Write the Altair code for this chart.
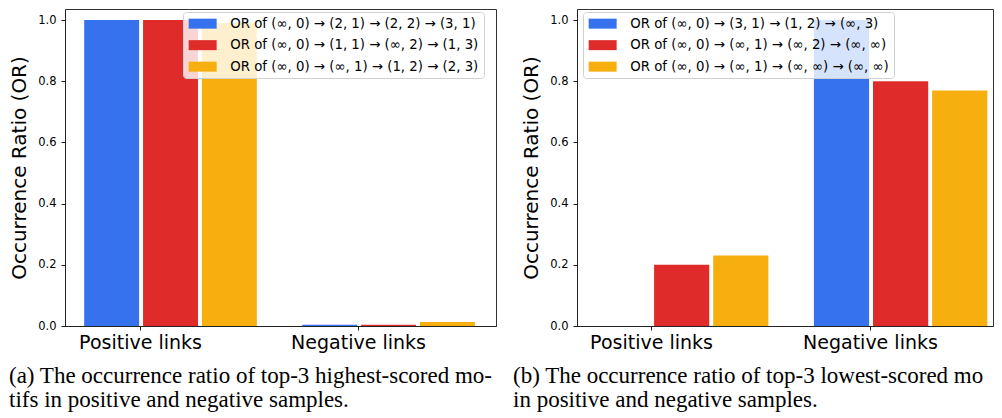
import altair as alt
import pandas as pd

# ---- data ----
categories = ["Positive links", "Negative links"]
colors = ["#3672ee", "#e02b2b", "#f7ae0f"]

labels_a = [
    "OR of (∞, 0) → (2, 1) → (2, 2) → (3, 1)",
    "OR of (∞, 0) → (1, 1) → (∞, 2) → (1, 3)",
    "OR of (∞, 0) → (∞, 1) → (1, 2) → (2, 3)",
]
values_a = [
    [1.0, 0.004],
    [1.0, 0.004],
    [0.99, 0.013],
]

labels_b = [
    "OR of (∞, 0) → (3, 1) → (1, 2) → (∞, 3)",
    "OR of (∞, 0) → (∞, 1) → (∞, 2) → (∞, ∞)",
    "OR of (∞, 0) → (∞, 1) → (∞, ∞) → (∞, ∞)",
]
values_b = [
    [0.0, 1.0],
    [0.20, 0.80],
    [0.23, 0.77],
]

caption_a = "(a)  The occurrence ratio of top-3 highest-scored mo-\ntifs in positive and negative samples."
caption_b = "(b)  The occurrence ratio of top-3 lowest-scored motifs\nin positive and negative samples."

# ---- layout constants ----
H = 317
YDOM = [0, 1.036]
STEP = 0.27
HALF = 0.126
CENTER0 = 0.14

label_expr = " : ".join(
    [f"datum.value == {i} ? '{c}'" for i, c in enumerate(categories)]
) + " : ''"


def build_df(labels, values):
    rows = []
    for j, (lab, vals) in enumerate(zip(labels, values)):
        for i, v in enumerate(vals):
            c = i + CENTER0 + STEP * (j - 1)
            rows.append({"series": lab, "x0": c - HALF, "x1": c + HALF,
                         "value": v, "base": 0.0})
    return pd.DataFrame(rows)


def panel(labels, values, caption, legend_x, cap_x, width, xdom, cap_limit):
    df = build_df(labels, values)
    bars = alt.Chart(df).mark_bar().encode(
        x=alt.X(
            "x0:Q",
            scale=alt.Scale(domain=xdom, nice=False, zero=False),
            axis=alt.Axis(
                values=list(range(len(categories))),
                labelExpr=label_expr,
                title=None,
                grid=False,
                labelFontSize=19,
                labelPadding=3,
                tickSize=4,
            ),
        ),
        x2="x1:Q",
        y=alt.Y(
            "value:Q",
            scale=alt.Scale(domain=YDOM, nice=False, zero=True),
            axis=alt.Axis(
                values=[0, 0.2, 0.4, 0.6, 0.8, 1.0],
                format=".1f",
                title="Occurrence Ratio (OR)",
                titleFontSize=20,
                titleFontWeight="normal",
                titlePadding=8,
                labelFontSize=11.5,
                labelPadding=5,
                tickSize=4,
                grid=False,
            ),
        ),
        y2="base:Q",
        color=alt.Color(
            "series:N",
            scale=alt.Scale(domain=labels, range=colors),
            sort=labels,
            legend=alt.Legend(
                orient="none",
                legendX=legend_x,
                legendY=3,
                title=None,
                symbolType="M-2.8,-1H2.8V1H-2.8Z",
                symbolSize=100,
                symbolStrokeWidth=0,
                symbolOffset=8,
                labelOffset=21,
                labelFont="DejaVu Sans",
                labelFontSize=13.3,
                labelColor="black",
                labelLimit=500,
                rowPadding=7.5,
                padding=5,
                fillColor="rgba(255,255,255,0.8)",
                strokeColor="#d0d0d0",
                cornerRadius=3,
            ),
        ),
    )
    cap = alt.Chart(pd.DataFrame({"t": [caption]})).mark_text(
        align="left",
        baseline="alphabetic",
        font="Liberation Serif",
        fontSize=23,
        lineBreak="\n",
        lineHeight=24,
        color="black",
        limit=cap_limit,
        ellipsis="\u200b",
    ).encode(x=alt.value(cap_x), y=alt.value(374), text="t:N")
    return alt.layer(bars, cap).properties(width=width, height=H)


left = panel(labels_a, values_a, caption_a, 118, -56, 431, [-0.344, 1.633], 600)
right = panel(labels_b, values_b, caption_b, 6, -64, 416, [-0.338, 1.562], 480)

chart = (
    alt.hconcat(left, right, spacing=81, bounds="flush")
    .resolve_scale(color="independent")
    .resolve_legend(color="independent")
    .properties(padding={"left": 0, "top": 0, "right": 0, "bottom": 0})
    .configure(font="DejaVu Sans", background="white")
    .configure_view(stroke="#333", strokeWidth=1)
    .configure_axis(domainColor="#222", tickColor="#222", labelColor="black", titleColor="black",
                    labelFont="DejaVu Sans", titleFont="DejaVu Sans")
)

chart.save("out.html", embed_options={"renderer": "svg", "actions": False})
